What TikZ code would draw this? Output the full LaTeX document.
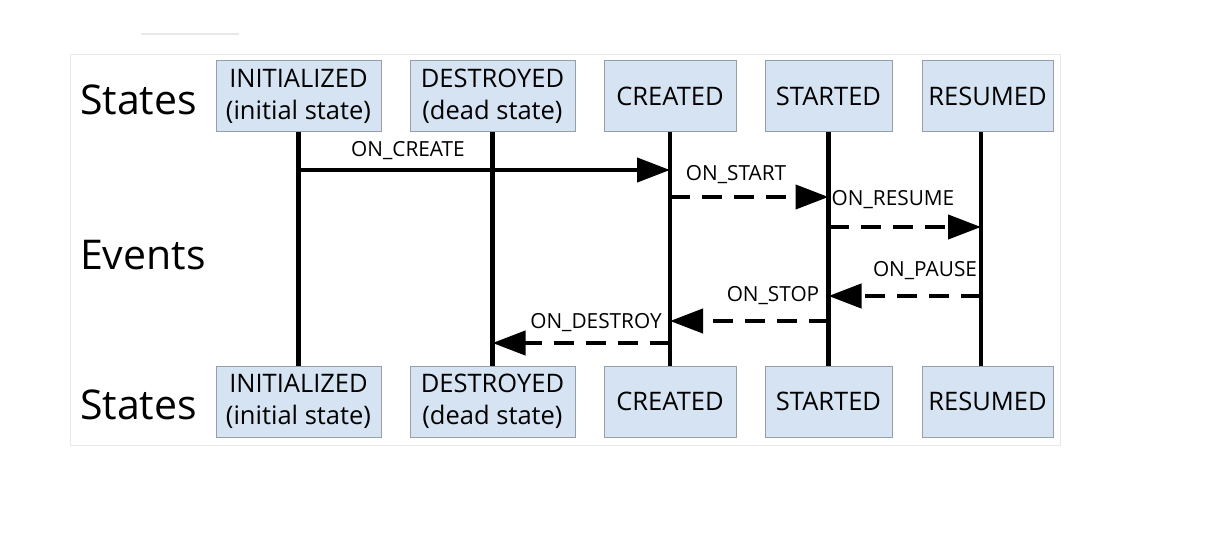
\documentclass[tikz,border=0pt]{standalone}
\usepackage{fontspec}
\setmainfont{Open Sans}
\usetikzlibrary{arrows.meta}

\definecolor{statefill}{RGB}{214,227,242}
\definecolor{stateline}{RGB}{150,158,168}
\definecolor{panelline}{RGB}{232,232,232}

\tikzset{
    statebox/.style={draw=stateline, fill=statefill, line width=1pt, minimum height=71pt, inner sep=0pt, align=center, font=\fontsize{25.5}{32}\selectfont},
    rowlabel/.style={anchor=west, inner sep=0pt, font=\fontsize{41}{44}\selectfont},
    eventlabel/.style={inner sep=0pt, font=\fontsize{20.8}{24}\selectfont},
    lifeline/.style={line width=4.2pt},
    event/.style={line width=4.2pt, -{Triangle[length=33pt,width=24pt]}},
    eventdash/.style={event, dash pattern=on 20pt off 12pt}
}

\begin{document}
\begin{tikzpicture}[x=1pt, y=-1pt]

    \useasboundingbox (0,0) rectangle (1212,534);

    % Panel and faint rule above it
    \draw[panelline, line width=1pt] (70,55) rectangle (1060,445);
    \draw[panelline, line width=1.5pt] (141,34) -- (239,34);

    % Row labels
    \node[rowlabel] (statestop) at (80,100) {States};
    \node[rowlabel] (events) at (80,255) {Events};
    \node[rowlabel] (statesbot) at (80,405) {States};

    % States on top
    \node[statebox, minimum width=165pt] (itop) at (298.5,96.5) {INITIALIZED\\(initial state)};
    \node[statebox, minimum width=165pt] (dtop) at (492.5,96.5) {DESTROYED\\(dead state)};
    \node[statebox, minimum width=132pt] (ctop) at (670,96.5) {CREATED};
    \node[statebox, minimum width=127pt] (stop) at (828.5,96.5) {STARTED};
    \node[statebox, minimum width=131pt] (rtop) at (987.5,96.5) {RESUMED};

    % States at the bottom
    \node[statebox, minimum width=165pt] (ibot) at (298.5,401.5) {INITIALIZED\\(initial state)};
    \node[statebox, minimum width=165pt] (dbot) at (492.5,401.5) {DESTROYED\\(dead state)};
    \node[statebox, minimum width=132pt] (cbot) at (670,401.5) {CREATED};
    \node[statebox, minimum width=127pt] (sbot) at (828.5,401.5) {STARTED};
    \node[statebox, minimum width=131pt] (rbot) at (987.5,401.5) {RESUMED};

    % Lifelines
    \draw[lifeline] (itop.south) -- (ibot.north);
    \draw[lifeline] (dtop.south) -- (dbot.north);
    \draw[lifeline] (ctop.south) -- (cbot.north);
    \draw[lifeline] (stop.south) -- (sbot.north);
    \draw[lifeline] ([xshift=-6.5pt]rtop.south) -- ([xshift=-6.5pt]rbot.north);

    % Heights of the events
    \coordinate (oncreate) at (0,170);
    \coordinate (onstart) at (0,197);
    \coordinate (onresume) at (0,227);
    \coordinate (onpause) at (0,296);
    \coordinate (onstop) at (0,321);
    \coordinate (ondestroy) at (0,343);

    % Events going up
    \draw[event] (itop |- oncreate) -- (ctop |- oncreate);
    \draw[eventdash] (ctop |- onstart) -- (stop |- onstart);
    \draw[eventdash] (stop |- onresume) -- ([xshift=-6.5pt]rtop.south |- onresume);

    % Events going down
    \draw[eventdash] ([xshift=-6.5pt]rtop.south |- onpause) -- (stop |- onpause);
    \draw[eventdash] (stop |- onstop) -- (ctop |- onstop);
    \draw[eventdash] (ctop |- ondestroy) -- (dtop |- ondestroy);

    % Event labels
    \node[eventlabel] (lcreate) at (408,151) {ON\_CREATE};
    \node[eventlabel] (lstart) at (736,175) {ON\_START};
    \node[eventlabel] (lresume) at (893,200) {ON\_RESUME};
    \node[eventlabel] (lpause) at (925,271) {ON\_PAUSE};
    \node[eventlabel] (lstop) at (773,296) {ON\_STOP};
    \node[eventlabel] (ldestroy) at (596,323) {ON\_DESTROY};
\end{tikzpicture}
\end{document}
